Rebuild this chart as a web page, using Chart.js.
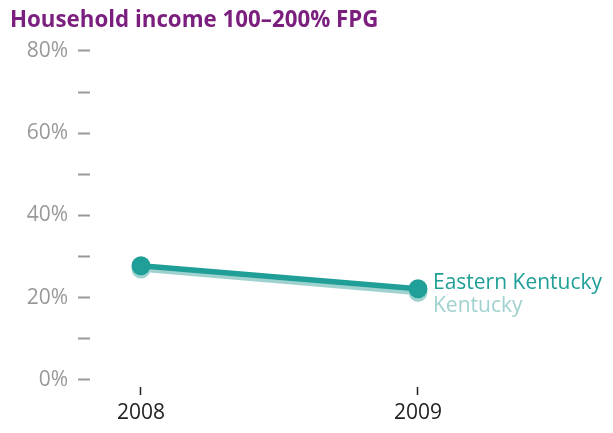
<!DOCTYPE html>
<html>
<head>
<meta charset="utf-8">
<title>Household income 100–200% FPG</title>
<script src="https://cdn.jsdelivr.net/npm/chart.js@4"></script>
<style>
  html, body { margin: 0; padding: 0; background: #ffffff; }
  #wrap { width: 613px; height: 433px; position: relative; }
</style>
</head>
<body>
<div id="wrap"><canvas id="chart" width="613" height="433"></canvas></div>
<script>
// Share of households with income at 100–200% of the federal poverty guideline
const years = [2008, 2009];
const easternKentucky = [27.8, 22.2];
const kentucky = [27.0, 21.3];
const seriesNames = ['Eastern Kentucky', 'Kentucky'];
const yTickValues = [0, 10, 20, 30, 40, 50, 60, 70, 80];
const chartTitle = 'Household income 100–200% FPG';

const TEAL = '#1f9f97';
const TEAL_LIGHT = '#9fd2ce';
const GREY = '#999999';
const FONT = "'Open Sans', 'Noto Sans', sans-serif";

// Series names written beside the last point of each line
const endLabels = {
  id: 'endLabels',
  afterDatasetsDraw(chart) {
    const ctx = chart.ctx;
    const offsets = [-6, 14];
    ctx.save();
    ctx.font = '21px ' + FONT;
    ctx.textAlign = 'left';
    ctx.textBaseline = 'middle';
    chart.data.datasets.forEach((ds, i) => {
      const meta = chart.getDatasetMeta(i);
      const pt = meta.data[meta.data.length - 1];
      ctx.fillStyle = ds.borderColor;
      ctx.fillText(ds.label, pt.x + 15, pt.y + offsets[i]);
    });
    ctx.restore();
  }
};

new Chart(document.getElementById('chart'), {
  type: 'line',
  data: {
    datasets: [
      {
        label: seriesNames[0],
        data: years.map((y, i) => ({ x: y, y: easternKentucky[i] })),
        borderColor: TEAL,
        backgroundColor: TEAL,
        borderWidth: 5.5,
        pointRadius: 9.5,
        pointBorderWidth: 0,
        pointHoverRadius: 9.5
      },
      {
        label: seriesNames[1],
        data: years.map((y, i) => ({ x: y, y: kentucky[i] })),
        borderColor: TEAL_LIGHT,
        backgroundColor: TEAL_LIGHT,
        borderWidth: 5.5,
        pointRadius: 9.5,
        pointBorderWidth: 0,
        pointHoverRadius: 9.5
      }
    ]
  },
  options: {
    responsive: false,
    animation: false,
    clip: false,
    layout: { padding: { left: 10, right: 13, top: 0, bottom: 0 } },
    plugins: {
      legend: { display: false },
      tooltip: { enabled: false },
      title: {
        display: true,
        text: chartTitle,
        align: 'start',
        color: '#7b1f7e',
        font: { family: FONT, size: 22.3, weight: 'bold' },
        padding: { top: 7, bottom: 17.2 }
      }
    },
    scales: {
      x: {
        type: 'linear',
        min: 2007.816,
        max: 2009.657,
        afterBuildTicks(scale) {
          scale.ticks = years.map(v => ({ value: v }));
        },
        afterFit(scale) { scale.height = 53; },
        border: { display: false },
        grid: {
          drawOnChartArea: false,
          drawTicks: true,
          tickLength: 15,
          tickWidth: 1.5,
          tickColor: '#222222',
          tickBorderDash: [0, 7, 8, 40]
        },
        ticks: {
          padding: 5,
          color: '#222222',
          font: { family: FONT, size: 21 },
          callback: v => String(v)
        }
      },
      y: {
        min: 0,
        max: 80,
        afterBuildTicks(scale) {
          scale.ticks = yTickValues.map(v => ({ value: v }));
        },
        afterFit(scale) { scale.width = 80; },
        border: { display: false },
        grid: {
          drawOnChartArea: false,
          drawTicks: true,
          tickLength: 12,
          tickWidth: 2,
          tickColor: GREY
        },
        ticks: {
          padding: 10,
          color: GREY,
          font: { family: FONT, size: 21 },
          callback: v => (v % 20 === 0 ? v + '%' : '')
        }
      }
    }
  },
  plugins: [endLabels]
});
</script>
</body>
</html>
